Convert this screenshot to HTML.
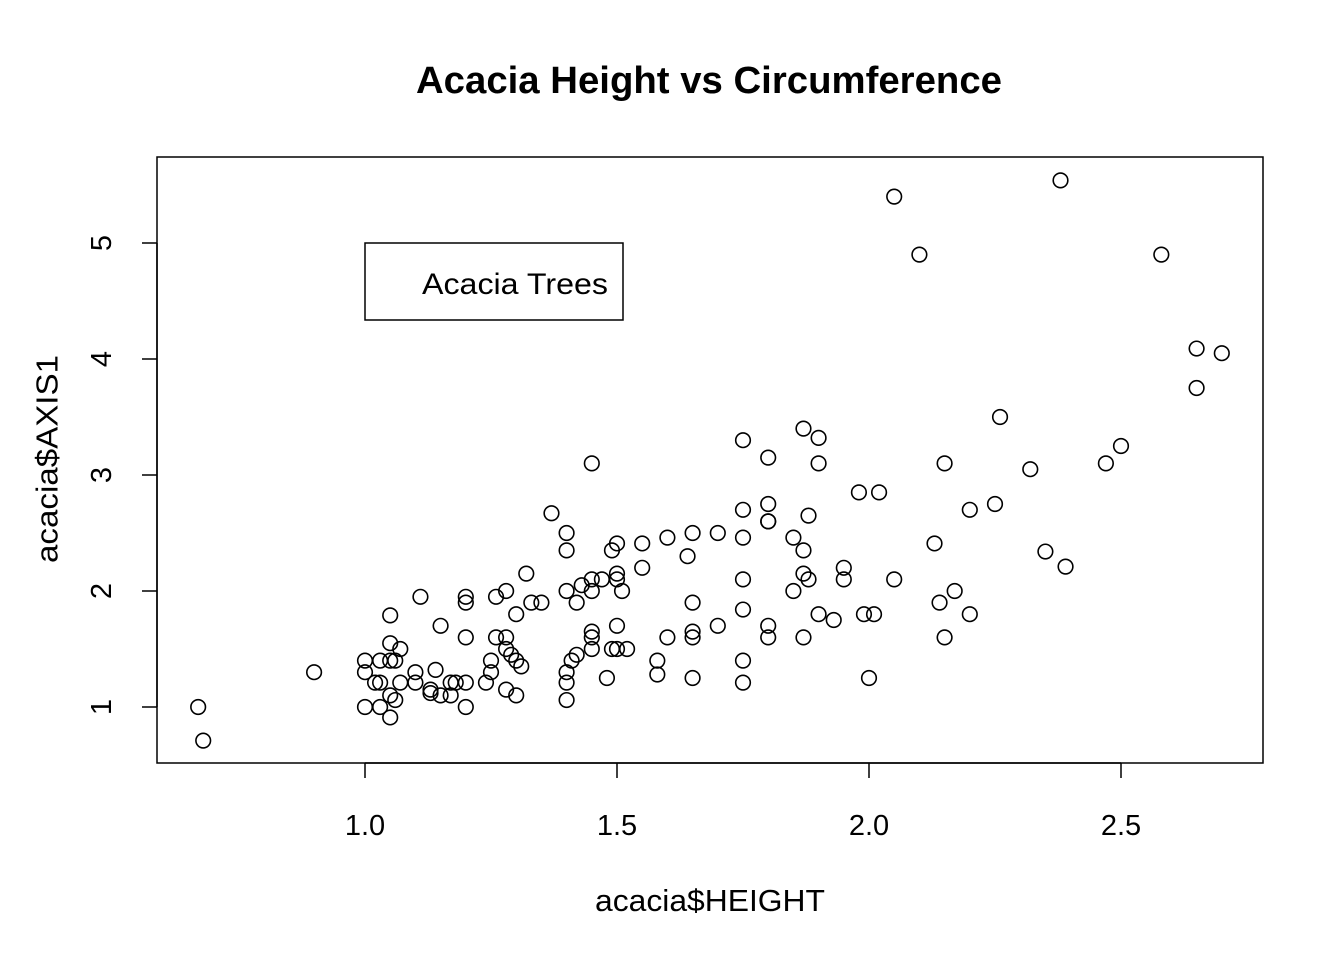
<!DOCTYPE html>
<html><head><meta charset="utf-8"><style>
body{margin:0;background:#fff;}
svg{display:block;font-family:"Liberation Sans",Arial,sans-serif;}
</style></head><body>
<svg id="chart" width="1344" height="960">
<text x="709" y="93" text-anchor="middle" font-size="38" font-weight="bold" textLength="586" lengthAdjust="spacingAndGlyphs">Acacia Height vs Circumference</text>
<rect x="157" y="157" width="1106" height="606" fill="none" stroke="#000" stroke-width="1.5"/>
<g id="xaxis"></g>
<g id="yaxis"></g>
<text x="710" y="911" text-anchor="middle" font-size="31" textLength="230" lengthAdjust="spacingAndGlyphs">acacia$HEIGHT</text>
<text x="0" y="0" transform="translate(36,459) rotate(-90)" text-anchor="middle" font-size="31" dy="0.7em" textLength="208" lengthAdjust="spacingAndGlyphs">acacia$AXIS1</text>
<g>
<rect x="365" y="243" width="258" height="77" fill="#fff" stroke="#000" stroke-width="1.5"/>
<text x="422" y="294" font-size="30" textLength="186" lengthAdjust="spacingAndGlyphs">Acacia Trees</text>
</g>
<g id="points"></g>
</svg>
<script>
const heights=[0.669,0.679,0.899,1.0,1.0,1.0,1.02,1.03,1.03,1.03,1.05,1.05,1.05,1.05,1.05,1.06,1.06,1.07,1.07,1.10,1.10,1.11,1.14,1.13,1.13,1.15,1.15,1.17,1.17,1.18,1.20,1.20,1.20,1.20,1.20,1.24,1.25,1.25,1.26,1.26,1.28,1.28,1.28,1.28,1.29,1.30,1.30,1.30,1.31,1.32,1.33,1.35,1.37,1.40,1.40,1.40,1.40,1.40,1.40,1.41,1.42,1.42,1.43,1.45,1.45,1.45,1.45,1.45,1.45,1.47,1.48,1.49,1.49,1.50,1.50,1.50,1.50,1.50,1.51,1.52,1.55,1.55,1.58,1.58,1.60,1.60,1.64,1.65,1.65,1.65,1.65,1.65,1.70,1.70,1.75,1.75,1.75,1.75,1.75,1.75,1.75,1.80,1.80,1.80,1.80,1.80,1.80,1.85,1.85,1.87,1.87,1.87,1.87,1.88,1.88,1.90,1.90,1.90,1.93,1.95,1.95,1.98,1.99,2.00,2.01,2.02,2.05,2.05,2.10,2.13,2.14,2.15,2.15,2.17,2.20,2.20,2.25,2.26,2.32,2.35,2.38,2.39,2.47,2.50,2.58,2.65,2.65,2.70];
const axis1=[1.0,0.71,1.30,1.40,1.30,1.0,1.21,1.21,1.0,1.40,1.40,1.79,1.55,1.10,0.91,1.40,1.06,1.50,1.21,1.30,1.21,1.95,1.32,1.12,1.15,1.70,1.10,1.21,1.10,1.21,1.21,1.0,1.60,1.95,1.90,1.21,1.30,1.40,1.95,1.60,2.0,1.60,1.50,1.15,1.45,1.80,1.10,1.40,1.35,2.15,1.90,1.90,2.67,2.50,2.35,2.0,1.30,1.21,1.06,1.40,1.45,1.90,2.05,2.10,2.0,1.65,1.60,1.50,3.10,2.10,1.25,2.35,1.50,2.41,2.15,2.10,1.70,1.50,2.0,1.50,2.41,2.20,1.40,1.28,2.46,1.60,2.30,2.50,1.90,1.65,1.60,1.25,2.50,1.70,3.30,2.70,2.46,2.10,1.84,1.40,1.21,3.15,2.75,2.60,2.60,1.70,1.60,2.46,2.0,3.40,2.35,2.15,1.60,2.65,2.10,3.32,3.10,1.80,1.75,2.20,2.10,2.85,1.80,1.25,1.80,2.85,2.10,5.40,4.90,2.41,1.90,3.10,1.60,2.0,2.70,1.80,2.75,3.50,3.05,2.34,5.54,2.21,3.10,3.25,4.90,4.09,3.75,4.05];
const xTicks=[1.0,1.5,2.0,2.5];
const xTickLabels=["1.0","1.5","2.0","2.5"];
const yTicks=[1,2,3,4,5];
const yTickLabels=["1","2","3","4","5"];
const NS="http://www.w3.org/2000/svg";
function sx(v){return 365+(v-1)*504;}
function sy(v){return 707-(v-1)*116;}
function mk(t,a,p){const e=document.createElementNS(NS,t);for(const k in a)e.setAttribute(k,a[k]);p.appendChild(e);return e;}
const xa=document.getElementById('xaxis'),ya=document.getElementById('yaxis'),pg=document.getElementById('points');
mk('line',{x1:sx(xTicks[0]),x2:sx(xTicks[xTicks.length-1]),y1:763,y2:763,stroke:'#000','stroke-width':1.5},xa);
xTicks.forEach((v,i)=>{
 const l=mk('line',{x1:sx(v),x2:sx(v),y1:763,y2:778,stroke:'#000','stroke-width':1.5},xa);
 
 
 const t=mk('text',{x:sx(v),y:835,'text-anchor':'middle','font-size':29},xa);
 t.textContent=xTickLabels[i];
 
 
});
mk('line',{x1:157,x2:157,y1:sy(yTicks[0]),y2:sy(yTicks[yTicks.length-1]),stroke:'#000','stroke-width':1.5},ya);
yTicks.forEach((v,i)=>{
 const l=mk('line',{x1:142,x2:157,y1:sy(v),y2:sy(v),stroke:'#000','stroke-width':1.5},ya);
 
 
 const t=mk('text',{x:0,y:0,transform:`translate(111,${sy(v)}) rotate(-90)`,'text-anchor':'middle','font-size':29},ya);
 t.textContent=yTickLabels[i];
 
 
});
heights.forEach((h,i)=>{
 const c=mk('circle',{cx:sx(h),cy:sy(axis1[i]),r:7.3,fill:'none',stroke:'#000','stroke-width':1.6},pg);
 
 
});
</script>
</body></html>
